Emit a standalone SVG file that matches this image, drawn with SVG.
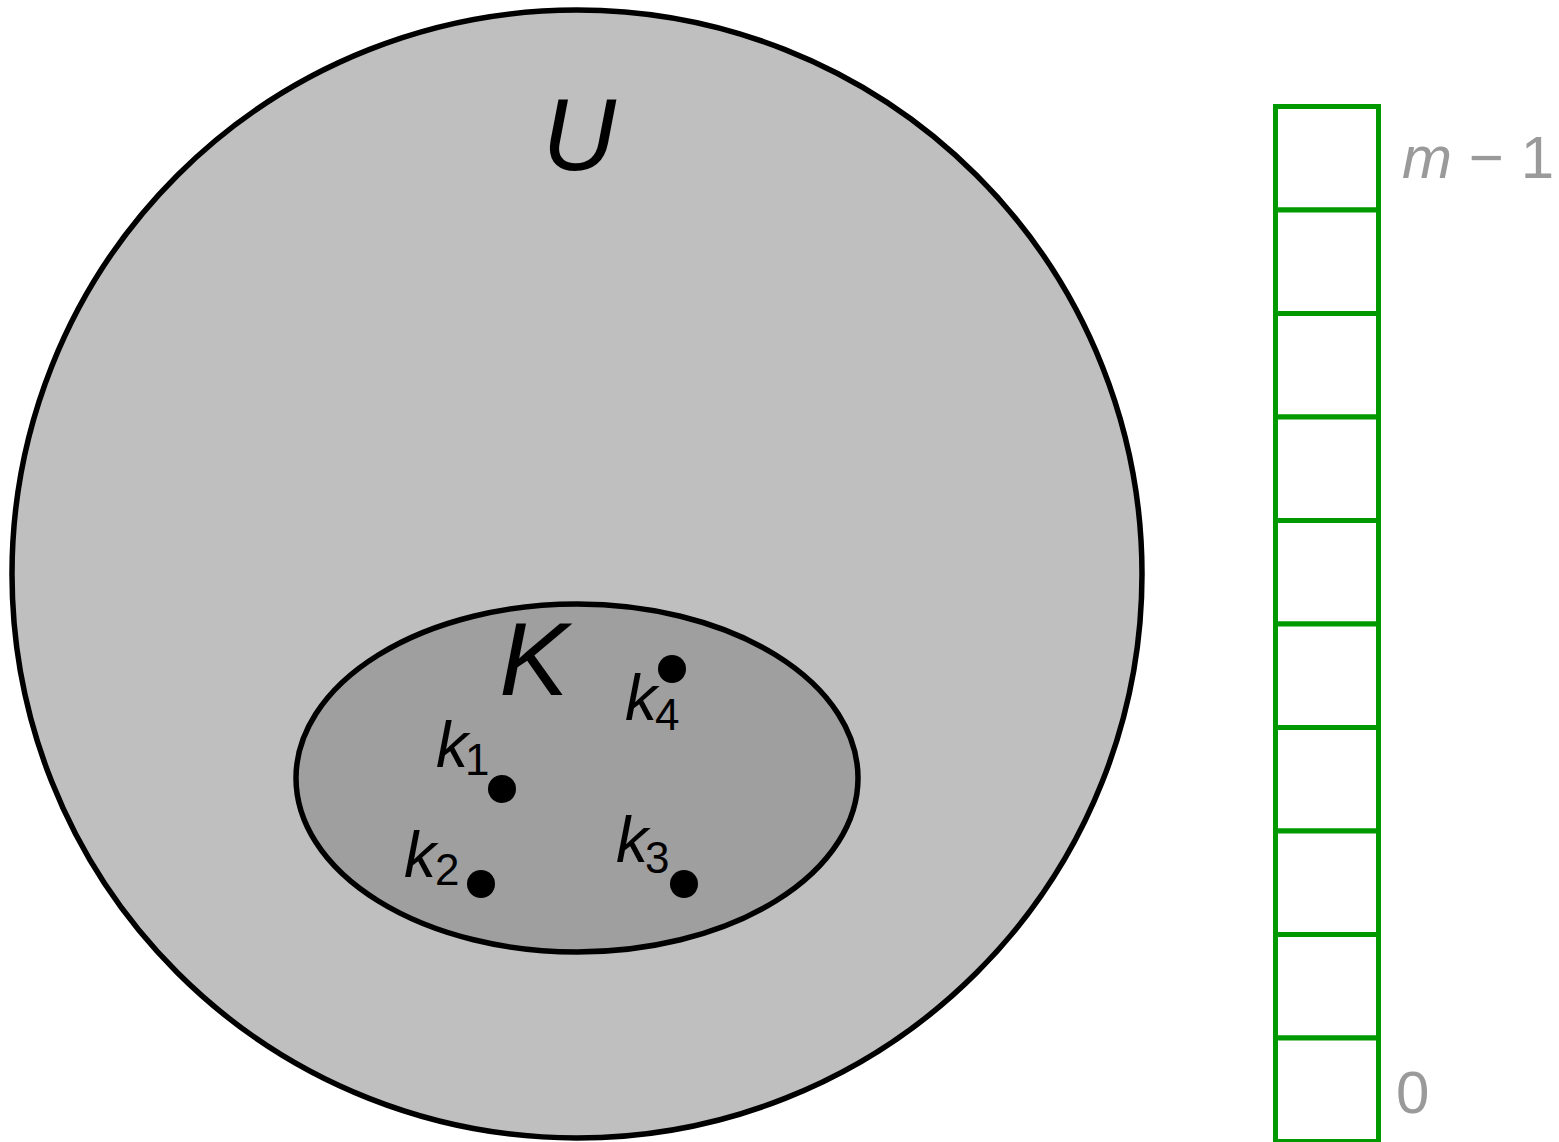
<svg xmlns="http://www.w3.org/2000/svg" width="1559" height="1142" viewBox="0 0 1559 1142">
<style>
.lbl{font-family:"Liberation Sans",Arial,sans-serif;font-style:italic;fill:#000}
.sub{font-family:"Liberation Sans",Arial,sans-serif;font-style:normal;fill:#000}
.idx{font-family:"Liberation Sans",Arial,sans-serif;fill:#9a9a9a}
.cell{fill:#fff;stroke:#009900;stroke-width:5}
.dot{fill:#000}
</style>
<rect width="1559" height="1142" fill="#fff"/>
<g id="U">
<ellipse cx="577" cy="574" rx="565" ry="564" fill="#bfbfbf" stroke="#000" stroke-width="5.5"/>
<text class="lbl" x="579" y="170" font-size="102" text-anchor="middle">U</text>
</g>
<g id="K">
<ellipse cx="577" cy="778" rx="281" ry="174" fill="#9f9f9f" stroke="#000" stroke-width="5.5"/>
<text class="lbl" x="534" y="695" font-size="104" text-anchor="middle">K</text>
</g>
<g id="k1"><circle class="dot" cx="502" cy="789" r="14"/><text class="lbl" x="436" y="767" font-size="64">k</text><text class="sub" x="465" y="775" font-size="44">1</text></g>
<g id="k2"><circle class="dot" cx="481" cy="884" r="14"/><text class="lbl" x="404" y="877" font-size="64">k</text><text class="sub" x="435" y="885" font-size="44">2</text></g>
<g id="k3"><circle class="dot" cx="684" cy="884" r="14"/><text class="lbl" x="616" y="862" font-size="64">k</text><text class="sub" x="645" y="873" font-size="44">3</text></g>
<g id="k4"><circle class="dot" cx="672" cy="669" r="14"/><text class="lbl" x="625" y="720" font-size="64">k</text><text class="sub" x="655" y="730" font-size="44">4</text></g>
<g id="table">
<rect class="cell" x="1275.5" y="106.5" width="103" height="103.5"/>
<rect class="cell" x="1275.5" y="210" width="103" height="103.5"/>
<rect class="cell" x="1275.5" y="313.5" width="103" height="103.5"/>
<rect class="cell" x="1275.5" y="417" width="103" height="103.5"/>
<rect class="cell" x="1275.5" y="520.5" width="103" height="103.5"/>
<rect class="cell" x="1275.5" y="624" width="103" height="103.5"/>
<rect class="cell" x="1275.5" y="727.5" width="103" height="103.5"/>
<rect class="cell" x="1275.5" y="831" width="103" height="103.5"/>
<rect class="cell" x="1275.5" y="934.5" width="103" height="103.5"/>
<rect class="cell" x="1275.5" y="1038" width="103" height="103.5"/>
<text class="idx" x="1402" y="178" font-size="60" textLength="152" lengthAdjust="spacing"><tspan font-style="italic">m</tspan> − 1</text>
<text class="idx" x="1396" y="1113" font-size="60">0</text>
</g>
<g id="connectors"/>
</svg>
